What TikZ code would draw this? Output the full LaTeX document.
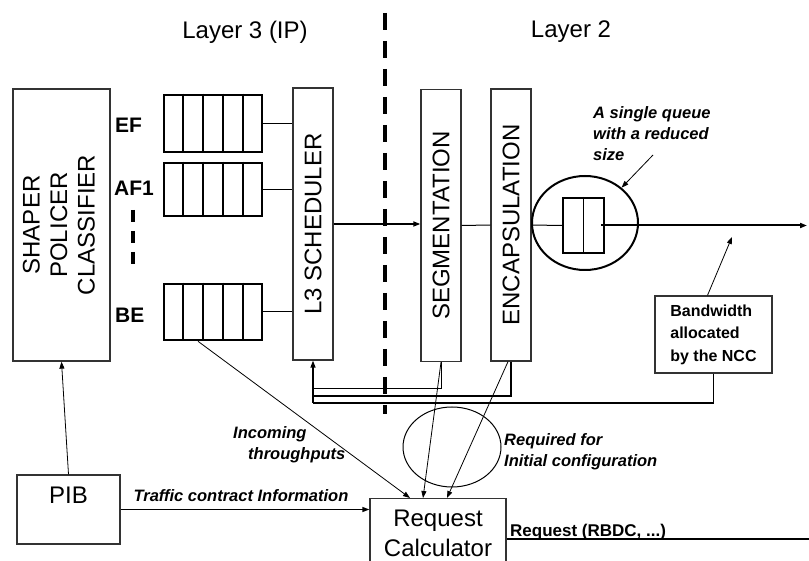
\documentclass[tikz,border=0pt]{standalone}
\usepackage{fontspec}
\setmainfont{Liberation Sans}
\usetikzlibrary{arrows.meta,positioning,shapes.geometric,calc}

\newcommand{\vlabel}[1]{\rotatebox{90}{#1}}

\begin{document}
\begin{tikzpicture}[x=1pt, y=-1pt,
  box/.style={draw=black!80, line width=1.3pt, inner sep=0pt},
  col/.style={box, minimum width=40pt, minimum height=272pt, font=\fontsize{24}{28}\selectfont},
  queue/.style={draw, line width=2.6pt, minimum width=98pt, inner sep=0pt},
  big/.style={font=\fontsize{24}{30}\selectfont},
  classtag/.style={font=\fontsize{21}{24}\selectfont\bfseries, inner sep=0pt, anchor=west},
  note/.style={font=\fontsize{16.5}{21}\selectfont\bfseries\itshape, align=left, inner sep=0pt},
  link/.style={line width=1pt},
  arrow/.style={-{Triangle[length=7pt,width=5pt]}, line width=0.8pt},
  layerline/.style={line width=4pt, dash pattern=on 17pt off 11pt}
]
\useasboundingbox (0,0) rectangle (809,561);

\node[big] (l3title) at (245,32) {Layer 3 (IP)};
\node[big] (l2title) at (571,32) {Layer 2};

\node[box, minimum width=97pt, minimum height=272pt, font=\fontsize{24}{27.5}\selectfont] (shaper) at (61.5,225)
  {\vlabel{\begin{tabular}{@{}c@{}}SHAPER\\POLICER\\CLASSIFIER\end{tabular}}};

\node[queue, minimum height=57pt] (efq) at (213,123.5) {};
\node[queue, minimum height=53pt] (afq) at (213,189.5) {};
\node[queue, minimum height=56pt] (beq) at (213,312) {};
\foreach \q in {efq,afq,beq}
  \foreach \i in {1,...,4}
    \draw[line width=1.5pt] ($(\q.north west)!\i/5!(\q.north east)$) -- ($(\q.south west)!\i/5!(\q.south east)$);

\node[classtag] (ef) at (115,125) {EF};
\node[classtag] (af) at (114,188) {AF1};
\node[classtag] (be) at (115,315) {BE};
\draw[line width=4pt, dash pattern=on 12pt off 9pt] (133,210) -- (133,264);

\node[col] (l3) at (313,224) {\vlabel{L3 SCHEDULER}};
\node[col] (seg) at (441,225.5) {\vlabel{SEGMENTATION}};
\node[col] (encap) at (511,225) {\vlabel{ENCAPSULATION}};

\draw[layerline] (385,13) -- (385,414);

\node[ellipse, draw, line width=2pt, minimum width=106pt, minimum height=94pt, inner sep=0pt] (ring) at (585,223) {};
\node[draw, line width=2.4pt, minimum width=41pt, minimum height=55pt, inner sep=0pt] (sq) at (583.5,225.5) {};
\draw[line width=1.5pt] (sq.north) -- (sq.south);

\node[note, anchor=north west] (qnote) at (593,106) {A single queue\\with a reduced\\size};
\node[box, minimum width=117pt, minimum height=77pt, align=left, font=\fontsize{16}{22.5}\selectfont\bfseries] (bw) at (713.5,334.5)
  {Bandwidth\\allocated\\by the NCC};

\node[box, minimum width=103pt, text height=28.5pt, text depth=40.5pt, font=\fontsize{24}{28}\selectfont] (pib) at (68.5,509.5) {PIB};
\node[box, anchor=north, minimum width=136pt, inner ysep=11pt, align=center, font=\fontsize{24}{30}\selectfont] (rc) at (438,498)
  {Request\\Calculator};
\node[ellipse, draw, line width=1pt, minimum width=98pt, minimum height=80pt, inner sep=0pt] (cfg) at (452,447) {};

\node[note, anchor=north west] (thrnote) at (233,426) {Incoming\\\hspace*{15pt}throughputs};
\node[note, anchor=north west] (cfgnote) at (504,433) {Required for\\Initial configuration};
\node[note] (tcnote) at (241,496) {Traffic contract Information};
\node[anchor=base west, inner sep=0pt, font=\fontsize{17}{20}\selectfont\bfseries] (reqnote) at (510,536) {Request (RBDC, ...)};

\coordinate (out) at (807,227);
\coordinate (qfrom) at (653,155);
\coordinate (bwtip) at (732,237);
\coordinate (busA) at (313,389);
\coordinate (busB) at (313,396);
\coordinate (busC) at (313,403);
\coordinate (reqend) at (812,539);

\draw[link] (efq.east) -- (efq.east -| l3.west);
\draw[link] (afq.east) -- (afq.east -| l3.west);
\draw[link] (beq.east) -- (beq.east -| l3.west);
\draw[arrow, line width=1.6pt] (l3.east) -- (l3.east -| seg.west);
\draw[link] (seg.east) -- (encap.west);
\draw[link] (encap.east) -- (sq.west);
\draw[arrow, line width=2pt] ([xshift=-4pt]sq.east) -- (sq.east -| out);
\draw[arrow] (qfrom) -- (ring.44);
\draw[arrow] ([xshift=-6pt]bw.north) -- (bwtip);

\draw[link] (seg.south) |- (busA);
\draw[line width=1.8pt] (encap.south) |- (busB);
\draw[line width=1.3pt] (bw.south) |- (busC);
\draw[arrow, line width=1.3pt] (busC) -- (l3.south);

\draw[arrow] (seg.south) -- ([xshift=-15pt]rc.north);
\draw[arrow] ([xshift=-3pt]encap.south) -- ([xshift=9pt]rc.north);
\draw[arrow] ([xshift=-15pt]beq.south) -- ([xshift=-28pt]rc.north);
\draw[arrow] (pib.north) -- (shaper.south);
\draw[arrow, line width=1.3pt] (pib.east) -- (pib.east -| rc.west);
\draw[line width=2pt] (rc.east |- reqend) -- (reqend);
\end{tikzpicture}
\end{document}
